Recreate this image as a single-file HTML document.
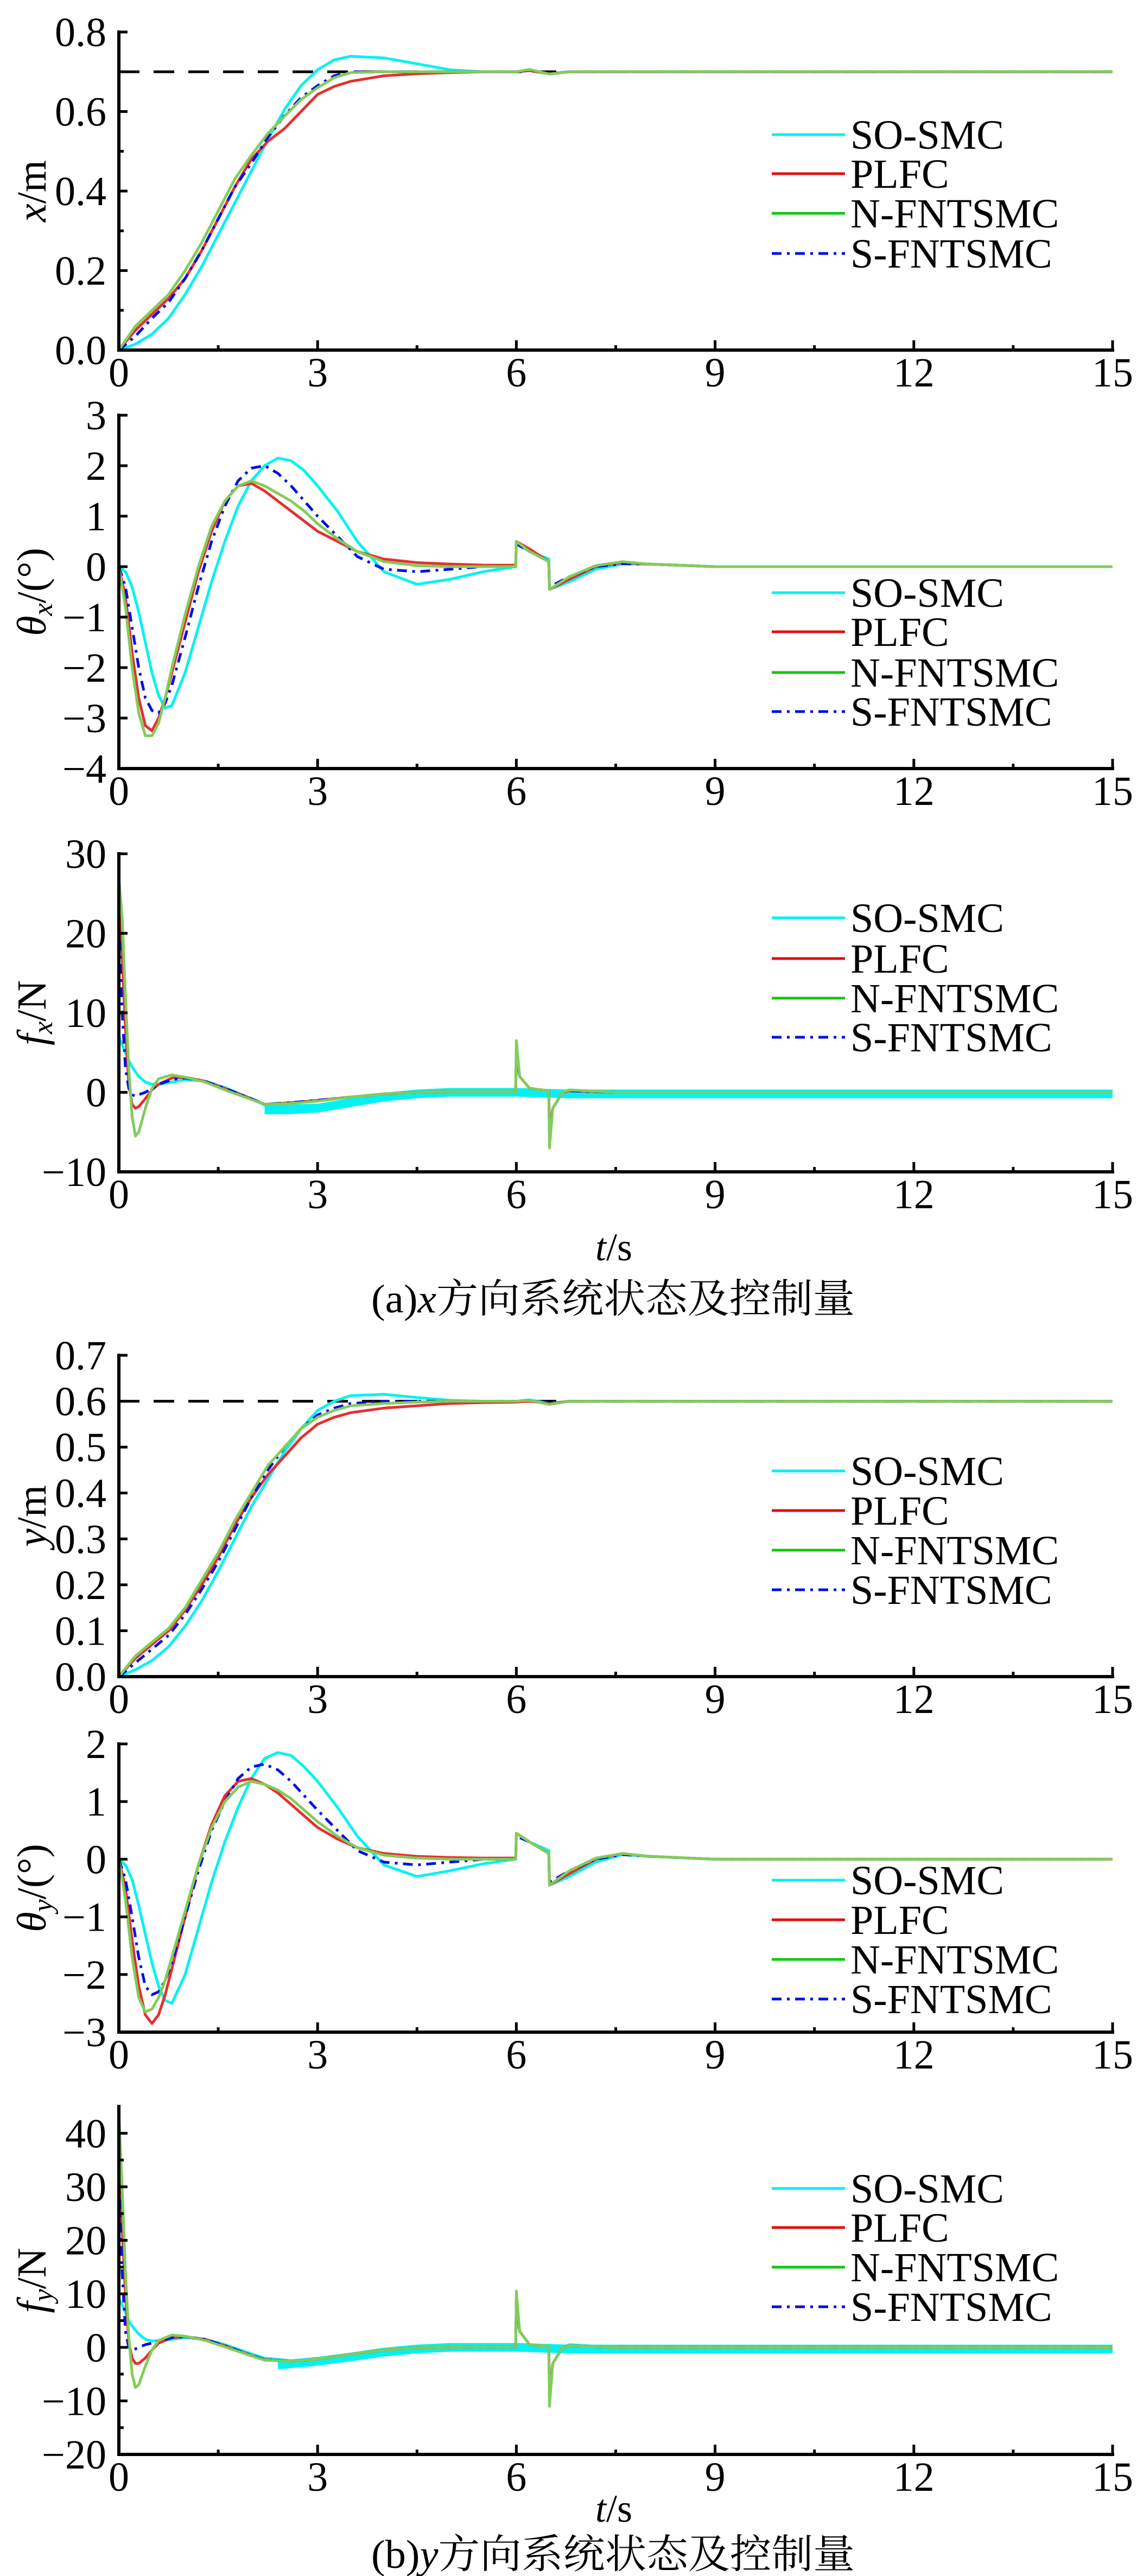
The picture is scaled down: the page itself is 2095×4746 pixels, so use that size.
<!DOCTYPE html>
<html><head><meta charset="utf-8">
<style>
html,body{margin:0;padding:0;background:#fff;}
svg{display:block;}
text{font-family:"Liberation Serif","Noto Serif CJK SC","Noto Sans CJK SC",serif;fill:#000;}
</style></head>
<body>
<svg id="fig" width="2095" height="4746" viewBox="0 0 2095 4746" xmlns="http://www.w3.org/2000/svg">
<rect x="0" y="0" width="2095" height="4746" fill="#fff"/>
<text x="684" y="2418" font-size="74" textLength="891" lengthAdjust="spacingAndGlyphs">(a)<tspan font-style="italic">x</tspan>方向系统状态及控制量</text>
<text x="684" y="4731" font-size="74" textLength="891" lengthAdjust="spacingAndGlyphs">(b)<tspan font-style="italic">y</tspan>方向系统状态及控制量</text>
<text x="1131" y="2322" font-size="72" text-anchor="middle"><tspan font-style="italic">t</tspan>/s</text>
<text x="1131" y="4646" font-size="72" text-anchor="middle"><tspan font-style="italic">t</tspan>/s</text>
</svg>
<script>
// ---------- data ----------
const seriesNames = ["SO-SMC","PLFC","N-FNTSMC","S-FNTSMC"];
const xTicks = [0,3,6,9,12,15];

// panel 1: x position
const tPos = [0,.25,.5,.75,1,1.25,1.5,1.75,2,2.25,2.5,2.75,3,3.25,3.5,4,4.5,5,5.5,6,6.2,6.5,6.8,7.5,9,15];
const xSO   = [0,.015,.04,.08,.14,.21,.29,.37,.45,.53,.605,.665,.705,.73,.739,.735,.72,.705,.70,.70,.705,.695,.70,.70,.70,.70];
const xPLFC = [0,.05,.09,.13,.18,.25,.33,.41,.48,.525,.557,.60,.643,.663,.676,.69,.695,.698,.70,.70,.703,.695,.70,.70,.70,.70];
const xNF   = [0,.06,.10,.14,.20,.27,.35,.43,.49,.545,.588,.63,.66,.685,.698,.70,.70,.70,.70,.70,.706,.694,.70,.70,.70,.70];
const xSF   = [0,.035,.08,.12,.18,.25,.33,.41,.47,.535,.59,.635,.665,.69,.70,.70,.70,.70,.70,.70,.704,.695,.70,.70,.70,.70];
const xRef = 0.7;
const xTickVals = [0,0.2,0.4,0.6,0.8];
const xTickLabels = ["0.0","0.2","0.4","0.6","0.8"];

// panel 2: theta_x
const tAng = [0,0.1,0.2,0.3,0.4,0.5,0.6,0.7,0.8,1.0,1.2,1.4,1.6,1.8,2.0,2.2,2.4,2.6,2.8,3.0,3.3,3.6,4.0,4.5,5.0,5.5,5.99,6.0,6.2,6.49,6.5,6.8,7.2,7.6,8.0,9,15];
const thxSO   = [0,-0.1,-0.4,-0.9,-1.5,-2.1,-2.55,-2.8,-2.75,-2.1,-1.2,-0.3,0.5,1.2,1.7,2.0,2.15,2.1,1.9,1.6,1.1,0.5,-0.1,-0.35,-0.25,-0.1,0,0.45,0.3,0.15,-0.45,-0.3,-0.05,0.05,0.05,0,0];
const thxPLFC = [0,-0.6,-1.7,-2.6,-3.15,-3.25,-3.0,-2.6,-2.1,-1.1,-0.1,0.7,1.3,1.6,1.65,1.5,1.3,1.1,0.9,0.7,0.5,0.3,0.15,0.08,0.05,0.03,0.03,0.5,0.35,0.1,-0.45,-0.25,0,0.08,0.05,0,0];
const thxNF   = [0,-0.8,-2.0,-2.9,-3.35,-3.35,-3.1,-2.6,-2.0,-0.95,0.0,0.8,1.3,1.6,1.7,1.6,1.45,1.3,1.1,0.85,0.55,0.3,0.1,0.02,0,0,0,0.5,0.3,0.1,-0.45,-0.2,0.02,0.1,0.05,0,0];
const thxSF   = [0,-0.4,-1.2,-2.0,-2.6,-2.85,-2.9,-2.7,-2.35,-1.4,-0.4,0.5,1.2,1.7,1.95,2.0,1.85,1.6,1.3,1.0,0.6,0.2,-0.05,-0.1,-0.05,0,0,0.45,0.3,0.1,-0.4,-0.2,0,0.06,0.05,0,0];
const thxTickVals = [-4,-3,-2,-1,0,1,2,3];
const thxTickLabels = ["−4","−3","−2","−1","0","1","2","3"];

// panel 3: f_x
const tF = [0,0.05,0.1,0.15,0.2,0.25,0.3,0.4,0.5,0.6,0.8,1.0,1.3,1.6,2.0,2.2,2.6,3.0,3.5,4.0,4.5,5.0,5.5,5.99,6.0,6.05,6.2,6.49,6.5,6.55,6.7,6.8,7.5,9,15];
const fxSO   = [7,6,5,4,3.2,2.6,2.0,1.3,1.0,1.0,1.3,1.6,1.4,0.6,-0.8,-1.6,-1.7,-1.6,-1.0,-0.5,-0.2,0,0,0,0,0,0,0,0,0,0,0.3,0,0,0];
const fxPLFC = [26,17,8,1,-1.5,-2.0,-1.8,-0.8,0.3,1.0,1.8,1.9,1.4,0.5,-0.8,-1.5,-1.3,-1.0,-0.6,-0.2,0,0.1,0.1,0.1,5.5,2,0.5,0.2,-5,-2,0,0.2,0,0,0];
const fxNF   = [27,22,12,3,-3,-5.5,-5.0,-2.0,0.5,1.7,2.2,1.9,1.3,0.3,-0.9,-1.5,-1.4,-1.1,-0.6,-0.2,0,0.1,0.1,0.1,6.5,2,0.5,0.2,-7,-2,0,0.3,0,0,0];
const fxSF   = [22,10,3,0.5,-0.3,-0.5,-0.3,0,0.5,1.0,1.6,1.8,1.4,0.5,-0.8,-1.5,-1.3,-1.0,-0.6,-0.2,0,0.1,0.1,0.1,5.5,2,0.5,0.2,-5,-2,0,0.2,0,0,0];
const fxBandT = [2.2,2.6,3,3.5,4,4.5,5,6,6.8,15];
const fxBandV = [-2.2,-2.2,-2.0,-1.3,-0.6,-0.2,0,0,-0.2,-0.2];
const fxTickVals = [-10,0,10,20,30];
const fxTickLabels = ["−10","0","10","20","30"];

// panel 4: y position
const ySO   = [0,.015,.035,.065,.11,.165,.23,.30,.37,.43,.49,.54,.58,.60,.612,.615,.608,.602,.60,.60,.603,.595,.60,.60,.60,.60];
const yPLFC = [0,.04,.07,.10,.145,.2,.26,.33,.39,.44,.48,.52,.55,.565,.575,.585,.59,.595,.597,.598,.60,.595,.60,.60,.60,.60];
const yNF   = [0,.045,.075,.105,.15,.21,.27,.34,.40,.46,.50,.54,.565,.58,.59,.595,.598,.60,.60,.60,.602,.593,.60,.60,.60,.60];
const ySF   = [0,.03,.06,.09,.135,.19,.25,.32,.39,.45,.50,.54,.57,.585,.595,.60,.60,.60,.60,.60,.602,.594,.60,.60,.60,.60];
const yRef = 0.6;
const yTickVals = [0,0.1,0.2,0.3,0.4,0.5,0.6,0.7];
const yTickLabels = ["0.0","0.1","0.2","0.3","0.4","0.5","0.6","0.7"];

// panel 5: theta_y
const thySO   = [0,-0.1,-0.35,-0.8,-1.3,-1.8,-2.2,-2.45,-2.5,-2.0,-1.2,-0.4,0.3,0.9,1.4,1.75,1.85,1.8,1.6,1.35,0.9,0.4,-0.1,-0.3,-0.2,-0.08,0,0.45,0.3,0.15,-0.45,-0.3,-0.05,0.08,0.05,0,0];
const thyPLFC = [0,-0.5,-1.4,-2.2,-2.7,-2.85,-2.7,-2.35,-1.9,-1.0,-0.1,0.6,1.1,1.35,1.4,1.3,1.15,0.95,0.75,0.55,0.35,0.2,0.1,0.05,0.03,0.02,0.02,0.45,0.3,0.1,-0.45,-0.25,0,0.1,0.05,0,0];
const thyNF   = [0,-0.7,-1.7,-2.4,-2.65,-2.6,-2.4,-2.1,-1.7,-0.9,-0.1,0.55,1.0,1.25,1.35,1.3,1.2,1.05,0.85,0.65,0.4,0.2,0.07,0.02,0,0,0,0.45,0.3,0.1,-0.45,-0.2,0.02,0.1,0.05,0,0];
const thySF   = [0,-0.35,-1.0,-1.7,-2.2,-2.35,-2.3,-2.1,-1.8,-1.0,-0.2,0.5,1.0,1.4,1.6,1.65,1.55,1.35,1.1,0.85,0.5,0.15,-0.05,-0.1,-0.05,0,0,0.4,0.3,0.1,-0.4,-0.2,0,0.08,0.05,0,0];
const thyTickVals = [-3,-2,-1,0,1,2];
const thyTickLabels = ["−3","−2","−1","0","1","2"];

// panel 6: f_y
const fySO   = [9,8,6.5,5,4,3.2,2.5,1.5,1.2,1.2,1.5,1.8,1.5,0.5,-1.2,-2.0,-2.5,-2.4,-1.6,-0.7,-0.2,0,0,0,0,0,0,0,0,0,0,0.5,0,0,0];
const fyPLFC = [35,22,10,1,-2,-3,-3,-2,-0.5,0.8,1.8,2.0,1.5,0.3,-1.5,-2.3,-2.6,-2.2,-1.3,-0.5,-0.1,0,0.1,0.1,9,3,0.5,0.2,-9,-3,0,0.3,0,0,0];
const fyNF   = [44,30,14,2,-5,-7.5,-7,-3.5,-0.5,1.3,2.3,2.1,1.3,0.1,-1.6,-2.4,-2.6,-2.2,-1.3,-0.5,-0.1,0,0.1,0.1,10.5,3,0.5,0.2,-11,-3,0,0.3,0,0,0];
const fySF   = [32,14,3,0,-0.5,-0.3,0,0.5,0.8,1.2,1.8,2.0,1.5,0.3,-1.5,-2.3,-2.6,-2.2,-1.3,-0.5,-0.1,0,0.1,0.1,8,3,0.5,0.2,-8,-3,0,0.3,0,0,0];
const fyBandT = [2.4,3,3.5,4,4.5,5,6,6.8,15];
const fyBandV = [-3.3,-2.6,-1.8,-0.9,-0.3,0,0,-0.3,-0.3];
const fyTickVals = [-20,-10,0,10,20,30,40];
const fyTickLabels = ["−20","−10","0","10","20","30","40"];

// ---------- drawing ----------
const NS = "http://www.w3.org/2000/svg";
const svg = document.getElementById("fig");
const X0 = 219, X1 = 2050, T_MAX = 15;
const COLORS = ["#00f2f2","#e53030","#82cc5a","#0010e0"];
const LEG_COLORS = ["#00f2f2","#e01010","#10c810","#0010e0"];

function mk(tag, attrs, parent){
  const e = document.createElementNS(NS, tag);
  for (const k in attrs) e.setAttribute(k, attrs[k]);
  (parent || svg).appendChild(e);
  return e;
}
function xScale(t){ return X0 + (t / T_MAX) * (X1 - X0); }

function panel(p){
  const g = mk("g", {});
  
  
  const yS = v => p.yBot - (v - p.vmin) / (p.vmax - p.vmin) * (p.yBot - p.yTop);

  if (p.ref !== undefined){
    const r = mk("line", {x1:X0, x2:X1, y1:yS(p.ref), y2:yS(p.ref), stroke:"#000", "stroke-width":5, "stroke-dasharray":"38 26"}, g);
    
    
  }
  if (p.bandT){
    const pts = p.bandT.map((t,i)=>xScale(t).toFixed(1)+","+yS(p.bandV[i]).toFixed(1)).join(" ");
    const b = mk("polyline", {points:pts, fill:"none", stroke:COLORS[0], "stroke-width":16, "stroke-linejoin":"round"}, g);
    
    
  }
  const order = [0,1,3,2];
  order.forEach(si=>{
    const vals = p.series[si];
    const pts = p.t.map((t,i)=>xScale(t).toFixed(1)+","+yS(vals[i]).toFixed(1)).join(" ");
    const attrs = {points:pts, fill:"none", stroke:COLORS[si], "stroke-width":5, "stroke-linejoin":"round"};
    if (si===3) attrs["stroke-dasharray"] = "18 10 5 10";
    const pl = mk("polyline", attrs, g);
    
    
  });

  const ax = mk("path", {d:`M${X0},${p.yTop} L${X0},${p.yBot} L${X1},${p.yBot}`, fill:"none", stroke:"#000", "stroke-width":6, "stroke-linecap":"square"}, g);
  
  

  p.tickVals.forEach((v,i)=>{
    const y = yS(v);
    const tk = mk("line", {x1:X0, x2:X0+16, y1:y, y2:y, stroke:"#000", "stroke-width":5}, g);
    
    
    const lb = mk("text", {x:196, y:y+26, "font-size":76, "text-anchor":"end"}, g);
    lb.textContent = p.tickLabels[i];
    
    
  });
  (p.minor||[]).forEach(v=>{
    const y = yS(v);
    const tk = mk("line", {x1:X0, x2:X0+9, y1:y, y2:y, stroke:"#000", "stroke-width":5}, g);
    
    
  });
  xTicks.forEach(t=>{
    const x = xScale(t);
    const tk = mk("line", {x1:x, x2:x, y1:p.yBot, y2:p.yBot-18, stroke:"#000", "stroke-width":5}, g);
    
    
    const lb = mk("text", {x:x, y:p.yBot+67, "font-size":76, "text-anchor":"middle"}, g);
    lb.textContent = String(t);
    
    
    if (t < T_MAX){
      const xm = xScale(t+1.5);
      const mt = mk("line", {x1:xm, x2:xm, y1:p.yBot, y2:p.yBot-9, stroke:"#000", "stroke-width":5}, g);
      
      
    }
  });

  const cy = (p.yTop + p.yBot)/2;
  const yl = mk("text", {x:0, y:0, "font-size":76, "text-anchor":"middle", transform:`translate(84,${cy}) rotate(-90)`}, g);
  yl.innerHTML = p.ylabel;
  
  

  p.legendY.forEach((ly,i)=>{
    const la = {x1:1422, x2:1557, y1:ly-8, y2:ly-8, stroke:LEG_COLORS[i], "stroke-width":5};
    if (i===3) la["stroke-dasharray"] = "18 10 5 10";
    const ln = mk("line", la, g);
    
    
    const tx = mk("text", {x:1567, y:ly+18, "font-size":76}, g);
    tx.textContent = seriesNames[i];
    
    
  });
}

panel({name:"panel-x-position", t:tPos, series:[xSO,xPLFC,xNF,xSF], ref:xRef, vmin:0, vmax:0.8, yTop:59, yBot:645,
  tickVals:xTickVals, tickLabels:xTickLabels, minor:[0.1,0.3,0.5,0.7],
  ylabel:'<tspan font-style="italic">x</tspan>/m', legendY:[256,328,401,475]});
panel({name:"panel-theta-x", t:tAng, series:[thxSO,thxPLFC,thxNF,thxSF], vmin:-4, vmax:3, yTop:765, yBot:1416,
  tickVals:thxTickVals, tickLabels:thxTickLabels,
  ylabel:'<tspan font-style="italic">θ</tspan><tspan font-style="italic" font-size="52" dy="12">x</tspan><tspan dy="-12">/(°)</tspan>', legendY:[1100,1172,1247,1319]});
panel({name:"panel-force-x", t:tF, series:[fxSO,fxPLFC,fxNF,fxSF], bandT:fxBandT, bandV:fxBandV, vmin:-10, vmax:30, yTop:1573, yBot:2159,
  tickVals:fxTickVals, tickLabels:fxTickLabels,
  ylabel:'<tspan font-style="italic">f</tspan><tspan font-style="italic" font-size="52" dy="12">x</tspan><tspan dy="-12">/N</tspan>', legendY:[1699,1774,1847,1919]});
panel({name:"panel-y-position", t:tPos, series:[ySO,yPLFC,yNF,ySF], ref:yRef, vmin:0, vmax:0.7, yTop:2497, yBot:3089,
  tickVals:yTickVals, tickLabels:yTickLabels,
  ylabel:'<tspan font-style="italic">y</tspan>/m', legendY:[2718,2791,2864,2937]});
panel({name:"panel-theta-y", t:tAng, series:[thySO,thyPLFC,thyNF,thySF], vmin:-3, vmax:2, yTop:3213, yBot:3744,
  tickVals:thyTickVals, tickLabels:thyTickLabels,
  ylabel:'<tspan font-style="italic">θ</tspan><tspan font-style="italic" font-size="52" dy="12">y</tspan><tspan dy="-12">/(°)</tspan>', legendY:[3472,3545,3618,3691]});
panel({name:"panel-force-y", t:tF, series:[fySO,fyPLFC,fyNF,fySF], bandT:fyBandT, bandV:fyBandV, vmin:-20, vmax:45, yTop:3881, yBot:4522,
  tickVals:fyTickVals, tickLabels:fyTickLabels, minor:[-15,-5,5,15,25,35],
  ylabel:'<tspan font-style="italic">f</tspan><tspan font-style="italic" font-size="52" dy="12">y</tspan><tspan dy="-12">/N</tspan>', legendY:[4040,4112,4185,4258]});
</script>
</body></html>
